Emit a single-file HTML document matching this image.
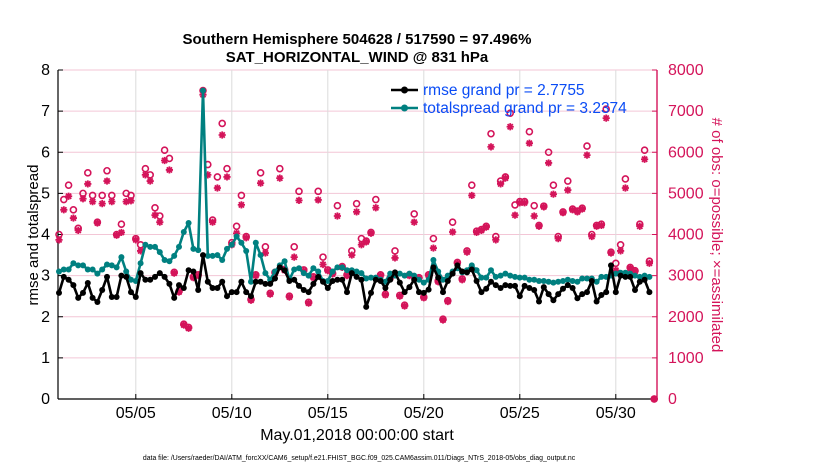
<!DOCTYPE html>
<html><head><meta charset="utf-8">
<style>
html,body{margin:0;padding:0;background:#fff;}
svg{display:block;font-family:"Liberation Sans",Arial,sans-serif;}
</style></head>
<body>
<svg id="chart" width="830" height="470" viewBox="0 0 830 470" xmlns="http://www.w3.org/2000/svg">
<g id="grid"></g>
<g id="axes"></g>
<g id="obs"></g>
<g id="lines"></g>
<text x="357" y="44" text-anchor="middle" font-size="15" font-weight="bold">Southern Hemisphere 504628 / 517590 = 97.496%</text>
<text x="357" y="62" text-anchor="middle" font-size="15" font-weight="bold">SAT_HORIZONTAL_WIND @ 831 hPa</text>
<text transform="translate(38,235) rotate(-90)" text-anchor="middle" font-size="15">rmse and totalspread</text>
<text transform="translate(712,235) rotate(90)" text-anchor="middle" font-size="15" fill="#d4145a"># of obs: o=possible; ×=assimilated</text>
<text x="357" y="440" text-anchor="middle" font-size="16">May.01,2018 00:00:00 start</text>
<text x="359" y="460" text-anchor="middle" font-size="6.9">data file: /Users/raeder/DAI/ATM_forcXX/CAM6_setup/f.e21.FHIST_BGC.f09_025.CAM6assim.011/Diags_NTrS_2018-05/obs_diag_output.nc</text>
<g id="legend"></g>
</svg>
<script>
const rmse = [2.58,2.97,2.9,2.77,2.46,2.58,2.82,2.46,2.36,2.65,2.97,2.48,2.48,3.0,2.97,2.6,2.48,3.06,2.9,2.9,
2.97,3.06,2.97,2.8,2.46,2.77,2.7,3.13,3.1,2.65,3.5,2.85,2.7,2.7,2.85,2.5,2.6,2.6,2.85,2.6,
2.5,2.85,2.85,2.8,2.8,2.93,3.2,3.13,2.87,2.9,2.75,2.65,2.6,2.8,2.97,2.85,2.7,2.87,2.9,2.9,
2.6,3.06,2.97,2.9,2.24,2.58,2.9,2.87,2.7,2.9,3.08,2.83,2.6,2.72,2.9,2.6,2.58,2.66,3.2,2.95,
2.6,2.87,3.05,3.25,3.1,3.08,3.15,2.87,2.6,2.68,2.85,2.77,2.7,2.77,2.75,2.75,2.5,2.75,2.7,2.65,
2.37,2.72,2.55,2.4,2.55,2.68,2.77,2.7,2.45,2.55,2.6,2.87,2.37,2.53,2.6,3.25,2.6,3.0,2.97,2.97,
2.65,2.85,2.9,2.6];
const spread = [3.1,3.15,3.15,3.3,3.25,3.25,3.15,3.15,3.05,3.15,3.27,3.25,3.2,3.45,3.1,2.9,2.87,3.3,3.75,3.7,
3.7,3.57,3.38,3.35,3.48,3.7,4.06,4.28,3.65,3.62,7.5,3.48,3.48,3.5,3.38,3.65,3.75,3.95,3.8,3.6,
2.85,3.8,3.5,3.06,2.9,3.1,3.25,3.35,2.9,3.15,3.18,3.06,3.0,3.18,3.1,2.87,2.87,3.1,3.2,3.2,
3.13,3.13,3.1,3.06,2.93,2.95,2.95,2.9,2.85,3.05,3.0,3.05,3.0,3.05,3.0,2.9,2.83,2.9,3.38,3.1,
2.9,3.0,3.1,3.18,3.08,3.13,3.25,3.13,2.95,2.95,3.13,2.97,3.0,3.05,3.0,2.97,2.95,2.95,2.9,2.9,
2.87,2.87,2.85,2.83,2.85,2.87,2.9,2.87,2.85,2.93,2.93,2.93,2.85,2.97,2.97,3.0,3.05,3.07,3.07,3.05,
3.0,2.97,3.0,2.97];
const assimilated = [3870,4600,4930,4400,4100,4870,5230,4800,4280,4750,5300,4800,3980,4050,4800,4820,3870,3600,5450,5300,
4470,4300,5800,5570,3060,2600,1800,1720,2950,3000,7400,5450,4300,5130,6420,5400,3750,4030,4720,3920,
2400,3000,5250,3550,2550,3060,5370,3130,2480,3450,4830,3120,2330,2950,4840,3270,3120,3040,4450,3200,
3000,3500,4550,3750,3820,4030,4650,3000,2530,2930,3430,2500,2260,3000,4300,2930,2460,3000,3670,2850,
1920,2370,4060,3300,2900,3570,4950,4050,4100,4180,6130,3870,5230,5370,6620,4470,4770,4770,6220,4450,
4200,4670,5740,4980,3900,4530,5080,4600,4550,4620,5930,3950,4200,4220,6830,3550,3130,3600,5130,3180,
3100,4200,5830,3300,0];
const possible = [4000,4850,5200,4600,4150,5000,5500,4950,4300,4950,5550,4950,4000,4250,5000,4950,3900,3750,5600,5450,
4650,4450,6050,5850,3080,2620,1820,1740,2970,3020,7500,5700,4350,5400,6700,5600,3800,4200,4950,3950,
2420,3020,5500,3700,2570,3080,5600,3150,2500,3700,5050,3140,2350,2970,5050,3450,3140,3060,4700,3220,
3020,3600,4750,3900,3840,4050,4850,3020,2550,2950,3600,2520,2280,3020,4500,2950,2480,3020,3900,2870,
1940,2390,4300,3320,2920,3600,5200,4080,4120,4200,6450,3950,5300,5400,6950,4720,4800,4800,6500,4700,
4220,4690,6000,5200,3950,4550,5300,4620,4570,4640,6150,4000,4220,4250,7050,3570,3300,3750,5350,3200,
3120,4250,6050,3350,0];
const xTickLabels = ["05/05","05/10","05/15","05/20","05/25","05/30"];
const xTickDays = [4,9,14,19,24,29];
const yTickLabels = ["0","1","2","3","4","5","6","7","8"];
const y2TickLabels = ["0","1000","2000","3000","4000","5000","6000","7000","8000"];

const NS="http://www.w3.org/2000/svg";
const L=58,R=657,T=70,B=399;
const xOf = d => 59 + d*19.2;
const xIdx = i => xOf(i/4);
const yOf = v => B - v*(B-T)/8;
const y2Of = n => B - n*(B-T)/8000;
function mk(tag,parent,attrs){const e=document.createElementNS(NS,tag);for(const k in attrs)e.setAttribute(k,attrs[k]);parent.appendChild(e);return e;}
const grid=document.getElementById('grid'),axes=document.getElementById('axes'),obs=document.getElementById('obs'),lines=document.getElementById('lines'),legend=document.getElementById('legend');

y2TickLabels.forEach((t,k)=>{
  if(k===0) return;
  const y=y2Of(+t);
  const g=mk('line',grid,{x1:L,x2:R,y1:y,y2:y,stroke:'#f3c6d6','stroke-width':1});
  
  
});
xTickDays.forEach((d,k)=>{
  const x=xOf(d);
  const g=mk('line',grid,{x1:x,x2:x,y1:T,y2:B,stroke:'#dcdcdc','stroke-width':1});
  
  
  mk('line',axes,{x1:x,x2:x,y1:B,y2:B-5,stroke:'#000'});
  const t=mk('text',axes,{x:x,y:418,'text-anchor':'middle','font-size':16});
  t.textContent=xTickLabels[k];
  
  
});
yTickLabels.forEach(t=>{
  const y=yOf(+t);
  mk('line',axes,{x1:L,x2:L+5,y1:y,y2:y,stroke:'#000'});
  const tx=mk('text',axes,{x:50,y:y+5,'text-anchor':'end','font-size':16});
  tx.textContent=t;
  
  
});
y2TickLabels.forEach(t=>{
  const y=y2Of(+t);
  mk('line',axes,{x1:R-5,x2:R,y1:y,y2:y,stroke:'#d4145a'});
  const tx=mk('text',axes,{x:668,y:y+5,'font-size':16,fill:'#d4145a'});
  tx.textContent=t;
  
  
});
const la=mk('line',axes,{x1:L,x2:L,y1:T,y2:B,stroke:'#000','stroke-width':1.2});


const ba=mk('line',axes,{x1:L,x2:R,y1:B,y2:B,stroke:'#000','stroke-width':1.2});


const ra=mk('line',axes,{x1:R,x2:R,y1:T,y2:B,stroke:'#d4145a','stroke-width':1.4});



const RED='#d4145a';
possible.forEach((n,i)=>{
  const c=mk('circle',obs,{cx:xIdx(i),cy:y2Of(n),r:3,fill:'none',stroke:RED,'stroke-width':1.6});
  
  
});
assimilated.forEach((n,i)=>{
  const x=xIdx(i),y=y2Of(n),s=3.6,d=2.6;
  const g=mk('path',obs,{d:`M${x-s},${y}H${x+s}M${x},${y-s}V${y+s}M${x-d},${y-d}L${x+d},${y+d}M${x-d},${y+d}L${x+d},${y-d}`,stroke:RED,'stroke-width':1.8,fill:'none'});
  
  
});

function series(vals,color,name){
  const p=mk('polyline',lines,{points:vals.map((v,i)=>xIdx(i)+','+yOf(v)).join(' '),fill:'none',stroke:color,'stroke-width':2.6,'stroke-linejoin':'round'});
  
  
  vals.forEach((v,i)=>{
    const c=mk('circle',lines,{cx:xIdx(i),cy:yOf(v),r:3,fill:color});
    
    
  });
}
series(spread,'#008080','totalspread');
series(rmse,'#000000','rmse');

[[ '#000000','rmse grand pr = 2.7755',95],['#008080','totalspread grand pr = 3.2374',113]].forEach(([c,txt,y])=>{
  const g=mk('g',legend,{});
  
  
  mk('line',g,{x1:391,x2:418,y1:y-5,y2:y-5,stroke:c,'stroke-width':2.6});
  mk('circle',g,{cx:404.5,cy:y-5,r:3.5,fill:c});
  const t=mk('text',g,{x:423,y:y,'font-size':15.5,fill:'#0a4cf5'});
  t.textContent=txt;
});
</script>
</body></html>
